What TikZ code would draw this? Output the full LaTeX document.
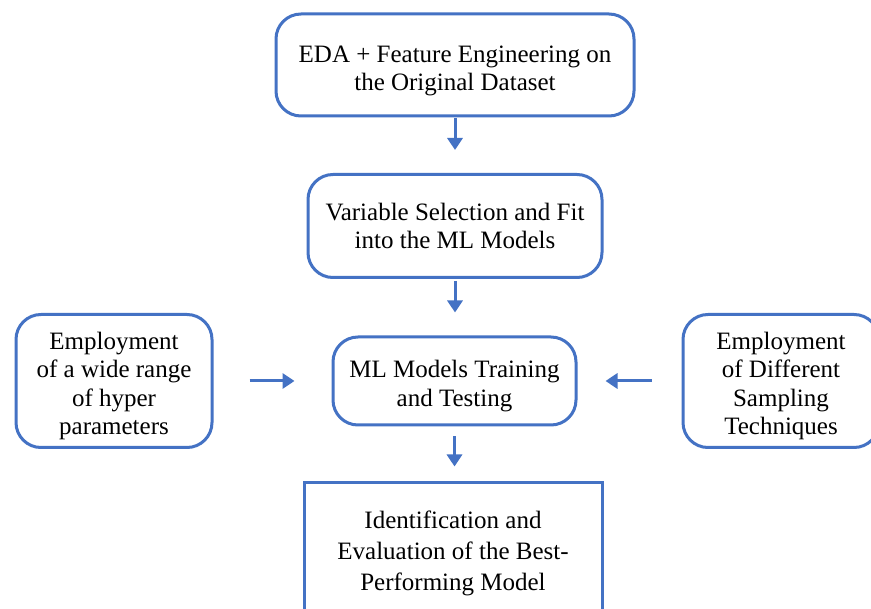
\documentclass[tikz,border=0pt]{standalone}
\usepackage{fontspec}
\setmainfont{Liberation Serif}
\usetikzlibrary{arrows.meta}
\definecolor{flowblue}{HTML}{4472C4}
\begin{document}
\begin{tikzpicture}[x=1pt,y=-1pt,
  flowbox/.style={draw=flowblue, line width=3pt, rounded corners=25pt, inner sep=0pt},
  sqbox/.style={flowbox, rounded corners=0pt},
  boxtext/.style={align=center, inner sep=0pt, text=black, font=\fontsize{25}{28.5}\selectfont},
  flowarrow/.style={draw=flowblue, line width=3pt, -{Triangle[width=15pt,length=12pt]}}]
\useasboundingbox[fill=white] (0,0) rectangle (871,609);
\node[flowbox, minimum width=358pt, minimum height=102pt] (eda) at (455,65) {};
\node[boxtext] (edat) at ([yshift=-6pt]eda.center) {EDA + Feature Engineering on\\the Original Dataset};
\node[flowbox, minimum width=294pt, minimum height=103pt] (var) at (455,226) {};
\node[boxtext] (vart) at (var.center) {Variable Selection and Fit\\into the ML Models};
\node[flowbox, minimum width=243pt, minimum height=88pt] (train) at (454.5,381) {};
\node[boxtext] (traint) at ([yshift=-5pt]train.center) {ML Models Training\\and Testing};
\node[flowbox, minimum width=196pt, minimum height=133pt] (hyper) at (114,381) {};
\node[boxtext] (hypert) at ([yshift=-5pt]hyper.center) {Employment\\of a wide range\\of hyper\\parameters};
\node[flowbox, minimum width=196pt, minimum height=133pt] (samp) at (781,381) {};
\node[boxtext] (sampt) at ([yshift=-5pt]samp.center) {Employment\\of Different\\Sampling\\Techniques};
\node[sqbox, minimum width=298pt, minimum height=136pt] (best) at (453,551) {};
\node[boxtext, font=\fontsize{25}{31}\selectfont] (bestt) at ([yshift=-2pt]best.center)
  {Identification and\\Evaluation of the Best-\\Performing Model};
\draw[flowarrow, shorten <=1pt, shorten >=23pt] (eda.south) -- (eda.south |- var.north);
\draw[flowarrow, shorten <=2pt, shorten >=23pt] (var.south) -- (var.south |- train.north);
\draw[flowarrow, shorten <=10pt, shorten >=15pt] (train.south) -- (train.south |- best.north);
\draw[flowarrow, shorten <=36pt, shorten >=37pt] (hyper.east) -- (train.west);
\draw[flowarrow, shorten <=30pt, shorten >=28pt] (samp.west) -- (train.east);
\end{tikzpicture}
\end{document}
